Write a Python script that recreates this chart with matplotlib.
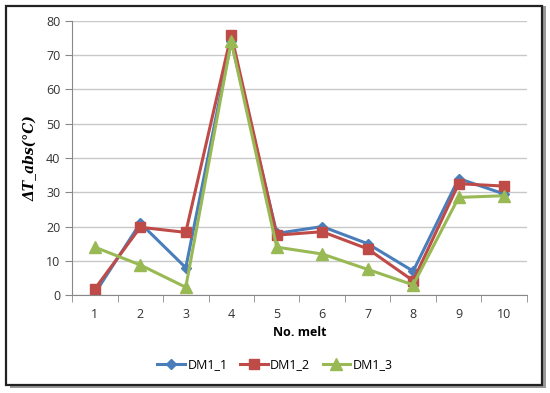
import matplotlib.pyplot as plt
from matplotlib.patches import Rectangle

# Datos
melt = [1, 2, 3, 4, 5, 6, 7, 8, 9, 10]
dm1_1 = [0.5, 21, 8, 74, 18, 20, 15, 7, 34, 29.5]
dm1_2 = [1.8, 19.8, 18.3, 76, 17.5, 18.5, 13.5, 4.2, 32.5, 31.8]
dm1_3 = [14, 8.8, 2.3, 74, 14, 12, 7.5, 3, 28.5, 29]

plt.rcParams['font.family'] = ['Open Sans', 'DejaVu Sans']

fig = plt.figure(figsize=(5.5, 3.93), dpi=100)

# Marco exterior con sombra
fig.patches.append(Rectangle((0.018, 0.012), 0.975, 0.972, transform=fig.transFigure,
                             facecolor='#9a9a9a', edgecolor='none', zorder=0))
fig.patches.append(Rectangle((0.011, 0.020), 0.975, 0.966, transform=fig.transFigure,
                             facecolor='white', edgecolor='#222222', linewidth=1.6, zorder=1))

ax = fig.add_axes([0.131, 0.249, 0.827, 0.698])
ax.set_zorder(2)
ax.patch.set_alpha(0)

ax.plot(melt, dm1_1, color='#4A7EBB', marker='D', markersize=5, linewidth=2.2, label='DM1_1')
ax.plot(melt, dm1_2, color='#BE4B48', marker='s', markersize=7.5, linewidth=2.2, label='DM1_2')
ax.plot(melt, dm1_3, color='#98B954', marker='^', markersize=8, linewidth=2.2, label='DM1_3')

ax.set_xlim(0.5, 10.5)
ax.set_ylim(0, 80)
ax.set_yticks(range(0, 81, 10))
ax.set_xticks(melt)
ax.set_xticks([i + 0.5 for i in range(0, 11)], minor=True)
ax.tick_params(axis='x', which='major', length=0, pad=9, labelsize=9, colors='#333333')
ax.tick_params(axis='x', which='minor', length=5, direction='out', color='#888888')
ax.tick_params(axis='y', length=5, color='#888888', labelsize=9, colors='#333333')
ax.grid(axis='y', color='#c8c8c8', linewidth=1)
ax.set_axisbelow(True)
for s in ['top', 'right']:
    ax.spines[s].set_visible(False)
ax.spines['left'].set_color('#888888')
ax.spines['bottom'].set_color('#888888')

ax.set_xlabel('No. melt', fontsize=9, fontweight='bold', labelpad=4)
ax.set_ylabel('ΔT_abs(°C)', fontsize=10, fontweight='bold', fontstyle='italic',
              family='DejaVu Serif', labelpad=6)

fig.legend(loc='center', bbox_to_anchor=(0.5, 0.072), ncol=3, frameon=False,
           fontsize=9, handlelength=2.2, handletextpad=0.2, columnspacing=1.0)

plt.savefig('out.png', dpi=100)
